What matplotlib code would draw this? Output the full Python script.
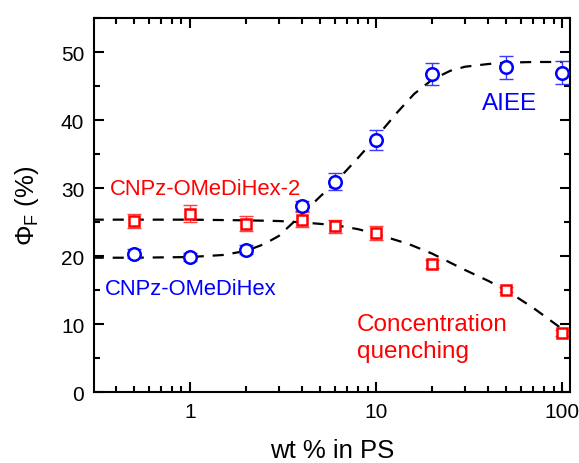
import matplotlib
matplotlib.use('Agg')
import matplotlib.pyplot as plt

plt.rcParams['font.family'] = ['Liberation Sans', 'DejaVu Sans']
plt.rcParams['mathtext.fontset'] = 'custom'
plt.rcParams['mathtext.rm'] = 'Liberation Sans'
plt.rcParams['mathtext.it'] = 'Liberation Sans:italic'

# measured points
wt = [0.5, 1, 2, 4, 6, 10, 20, 50, 100]
phi_blue = [20.4, 19.9, 21.0, 27.4, 31.0, 37.1, 46.8, 47.8, 47.0]
err_blue = [0.7, 0.6, 0.7, 0.7, 1.3, 1.5, 1.6, 1.7, 1.7]
phi_red = [25.2, 26.3, 24.8, 25.4, 24.4, 23.4, 18.9, 15.1, 8.7]
err_red = [1.1, 1.2, 1.1, 1.1, 1.0, 1.0, 0.6, 0.4, 0.4]

# dashed guide curves
fit_blue_x = [0.3, 0.5, 1, 1.5, 2, 2.5, 3, 4, 5, 6, 8, 10, 13, 16, 20, 25, 30, 40, 50, 70, 100]
fit_blue_y = [19.8, 19.8, 19.9, 20.2, 20.8, 21.8, 23.0, 26.2, 28.8, 30.8, 34.5, 37.5, 41.2, 43.9, 46.0, 47.3, 47.9, 48.3, 48.5, 48.6, 48.6]
fit_red_x = [0.3, 0.5, 1, 2, 3, 4, 6, 8, 10, 15, 20, 30, 40, 50, 70, 100]
fit_red_y = [25.4, 25.4, 25.4, 25.3, 25.2, 25.0, 24.6, 24.0, 23.3, 21.8, 20.4, 18.0, 16.4, 15.0, 12.4, 9.3]

fig = plt.figure(figsize=(5.79, 4.64), dpi=100)
ax = fig.add_axes([0.1624, 0.1524, 0.822, 0.8056])

ax.plot(fit_blue_x, fit_blue_y, '--', color='black', lw=1.6, dashes=(5, 4), zorder=1)
ax.plot(fit_red_x, fit_red_y, '--', color='black', lw=1.6, dashes=(5, 4), zorder=1)

ax.errorbar(wt, phi_blue, yerr=err_blue, fmt='none', ecolor='#3b3bff', elinewidth=1.0,
            capsize=5, capthick=1.0, zorder=2)
ax.plot(wt, phi_blue, 'o', mfc='white', mec='#0000ff', mew=1.8, ms=9, zorder=3)
ax.errorbar(wt, phi_red, yerr=err_red, fmt='none', ecolor='#ff4040', elinewidth=1.0,
            capsize=5, capthick=1.0, zorder=2)
ax.plot(wt, phi_red, 's', mfc='white', mec='#ff0000', mew=1.8, ms=7.5, zorder=3)

ax.set_xscale('log')
ax.set_xlim(0.305, 110)
ax.set_ylim(0, 55)
ax.set_yticks([0, 10, 20, 30, 40, 50])
ax.set_yticks([5, 15, 25, 35, 45, 55], minor=True)
ax.set_xticks([1, 10, 100])
ax.set_xticklabels(['1', '10', '100'])

for s in ax.spines.values():
    s.set_linewidth(1.5)
ax.tick_params(which='both', direction='in', top=True, right=True, width=1.5, labelsize=15)
ax.tick_params(which='major', length=7, pad=7)
ax.tick_params(which='minor', length=4)

ax.set_xlabel('wt % in PS', fontsize=18.5, labelpad=12)
ax.set_ylabel(r'$\Phi_{\mathrm{F}}$ (%)', fontsize=18.5, labelpad=14)

ax.text(0.371, 30.0, 'CNPz-OMeDiHex-2', color='#ff0000', fontsize=15.8, va='center', ha='left')
ax.text(0.349, 15.2, 'CNPz-OMeDiHex', color='#0000ff', fontsize=15.8, va='center', ha='left')
ax.text(37.2, 42.6, 'AIEE', color='#0000ff', fontsize=17.5, va='center', ha='left')
ax.text(7.87, 8.1, 'Concentration\nquenching', color='#ff0000', fontsize=17.5,
        va='center', ha='left', linespacing=1.3)

fig.savefig('out.png', dpi=100)
